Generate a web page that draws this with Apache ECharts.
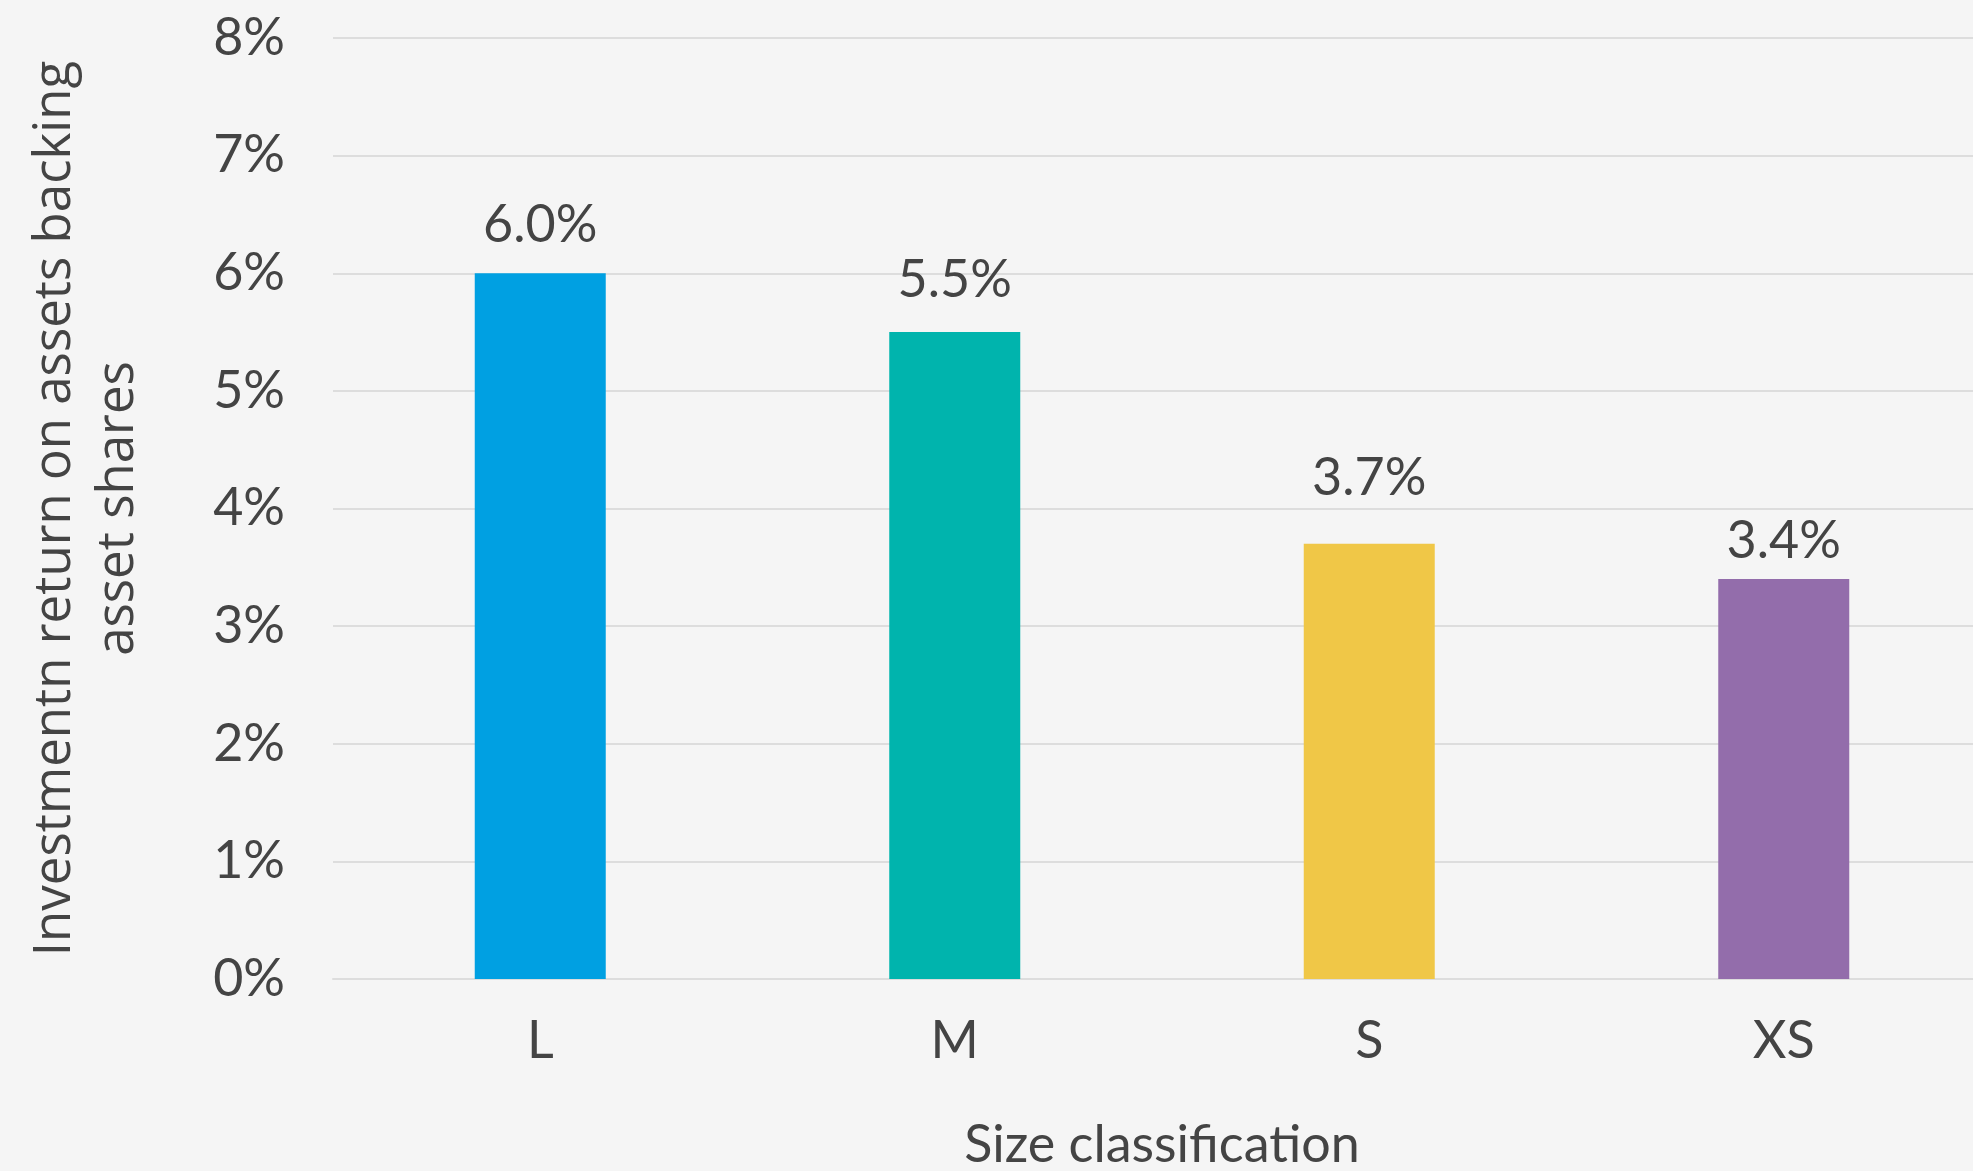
<!DOCTYPE html>
<html>
<head>
<meta charset="utf-8">
<script src="https://cdn.jsdelivr.net/npm/echarts@6/dist/echarts.min.js"></script>
<style>
html,body{margin:0;padding:0;background:#f5f5f5;}
#chart{width:1973px;height:1171px;}
</style>
</head>
<body>
<div id="chart"></div>
<script>
const categories = ['L', 'M', 'S', 'XS'];
const values = [6.0, 5.5, 3.7, 3.4];
const barColors = ['#00a0e2', '#00b4ad', '#f0c747', '#936dab'];
const yTicks = [0, 1, 2, 3, 4, 5, 6, 7, 8];
const xTitle = 'Size classification';
const yTitle = 'Investmentn return on assets backing\nasset shares';

const chart = echarts.init(document.getElementById('chart'));
const textColor = '#444444';
const labelGaps = [22, 26, 40, 12];
chart.setOption({
  backgroundColor: '#f5f5f5',
  animation: false,
  grid: { left: 333, top: 38, width: 1658, bottom: 192, containLabel: false, outerBoundsMode: 'none' },
  xAxis: {
    type: 'category',
    data: categories,
    axisLine: { show: true, lineStyle: { color: '#dddddd', width: 2 } },
    axisTick: { show: false },
    axisLabel: { color: textColor, fontFamily: 'Lato', fontSize: 52, margin: 36 },
    name: xTitle,
    nameLocation: 'middle',
    nameGap: 140,
    nameTextStyle: { color: textColor, fontFamily: 'Lato', fontSize: 52 }
  },
  yAxis: {
    type: 'value',
    min: yTicks[0],
    max: yTicks[yTicks.length - 1],
    interval: 1,
    axisLine: { show: false },
    axisTick: { show: false },
    splitLine: { lineStyle: { color: '#dddddd', width: 2 } },
    axisLabel: { color: textColor, fontFamily: 'Lato', fontSize: 52, margin: 48, formatter: '{value}%' },
    name: yTitle,
    nameLocation: 'middle',
    nameRotate: 90,
    nameGap: 183,
    nameTextStyle: { color: textColor, fontFamily: 'Open Sans', fontSize: 51, lineHeight: 63 }
  },
  series: [{
    type: 'bar',
    data: values.map((v, i) => ({
      value: v,
      itemStyle: { color: barColors[i] },
      label: { distance: labelGaps[i] }
    })),
    barWidth: 131,
    label: {
      show: true,
      position: 'top',
      color: textColor,
      fontFamily: 'Lato',
      fontSize: 52,
      formatter: p => p.value.toFixed(1) + '%'
    }
  }]
});
</script>
</body>
</html>
